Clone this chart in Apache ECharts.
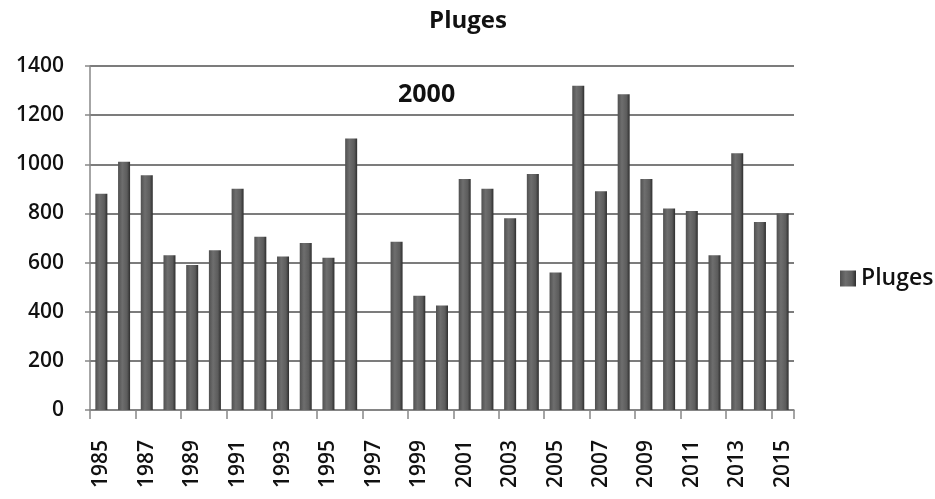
<!DOCTYPE html>
<html>
<head>
<meta charset="utf-8">
<script src="https://cdn.jsdelivr.net/npm/echarts@6/dist/echarts.min.js"></script>
<style>
  html, body { margin: 0; padding: 0; background: #fff; }
  #chart { width: 935px; height: 499px; }
</style>
</head>
<body>
<div id="chart"></div>
<script>
// années et valeurs
const years = ['1985', '1986', '1987', '1988', '1989', '1990', '1991', '1992', '1993', '1994',
  '1995', '1996', '1997', '1998', '1999', '2000', '2001', '2002', '2003', '2004',
  '2005', '2006', '2007', '2008', '2009', '2010', '2011', '2012', '2013', '2014', '2015']
const pluges = [880, 1010, 955, 630, 590, 650, 900, 705, 625, 680,
  620, 1105, 0, 685, 465, 425, 940, 900, 780, 960,
  560, 1320, 890, 1285, 940, 820, 810, 630, 1045, 765, 800]
const seriesName = 'Pluges'
const annotation = '2000'

const myChart = echarts.init(document.getElementById('chart'))

const option = {
  animation: false,
  title: {
    text: 'Pluges',
    left: 463,
    top: 4,
    textAlign: 'center',
    textStyle: { fontFamily: 'Open Sans', fontSize: 24, fontWeight: 'bold', color: '#111' },
  },
  legend: {
    data: [seriesName],
    orient: 'vertical',
    left: 835,
    top: 262,
    itemWidth: 16,
    itemHeight: 16,
    itemGap: 6,
    icon: 'rect',
    textStyle: { fontFamily: 'Open Sans', fontSize: 23, fontWeight: 600, color: '#111' },
  },
  grid: {
    left: 90,
    right: 141,
    top: 66,
    bottom: 89,
  },
  xAxis: {
    type: 'category',
    data: years,
    axisLine: { lineStyle: { color: '#888', width: 1.5 } },
    axisTick: { show: true, length: 9, lineStyle: { color: '#888', width: 1.5 } },
    axisLabel: {
      interval: 1,
      rotate: 90,
      margin: 30,
      fontFamily: 'Open Sans',
      fontSize: 21,
      fontWeight: 600,
      color: '#111',
    },
  },
  yAxis: {
    type: 'value',
    min: 0,
    max: 1400,
    interval: 200,
    axisLine: { show: true, lineStyle: { color: '#888', width: 1.5 } },
    axisTick: { show: true, length: 5, lineStyle: { color: '#888', width: 1.5 } },
    axisLabel: {
      margin: 26,
      fontFamily: 'Open Sans',
      fontSize: 21,
      fontWeight: 600,
      color: '#111',
      formatter: (v) => String(v),
    },
    splitLine: { lineStyle: { color: '#7c7c7c', width: 1.8 } },
  },
  graphic: [
    {
      type: 'text',
      left: 398,
      top: 82,
      style: {
        text: annotation,
        fontFamily: 'Open Sans',
        fontSize: 25,
        fontWeight: 'bold',
        fill: '#111',
      },
    },
  ],
  series: [
    {
      name: seriesName,
      type: 'bar',
      data: pluges,
      barWidth: 12,
      itemStyle: {
        color: new echarts.graphic.LinearGradient(0, 0, 1, 0, [
          { offset: 0, color: '#505050' },
          { offset: 0.35, color: '#6e6e6e' },
          { offset: 0.75, color: '#5c5c5c' },
          { offset: 1, color: '#2e2e2e' },
        ]),
      },
    },
  ],
  color: ['#555'],
}

myChart.setOption(option)
window.addEventListener('resize', () => {
  myChart.resize()
})
</script>
</body>
</html>
